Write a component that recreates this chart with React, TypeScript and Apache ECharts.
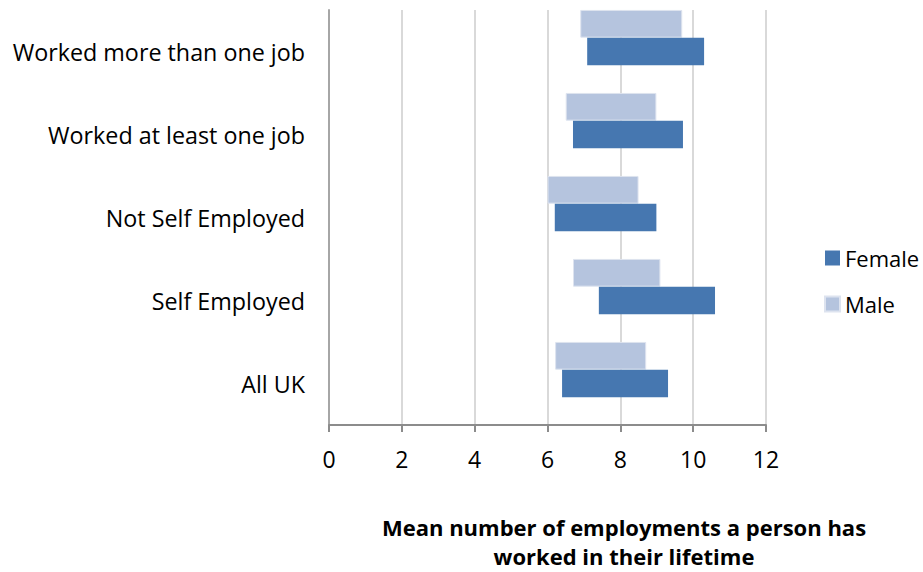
import React, { useEffect, useRef } from "react";
import * as echarts from "echarts";

const categories = [
  "All UK",
  "Self Employed",
  "Not Self Employed",
  "Worked at least one job",
  "Worked more than one job",
];
const maleStart = [6.21, 6.7, 6.0, 6.5, 6.9];
const maleEnd = [8.71, 9.1, 8.5, 8.99, 9.7];
const femaleStart = [6.4, 7.41, 6.2, 6.7, 7.09];
const femaleEnd = [9.31, 10.6, 8.99, 9.72, 10.3];
const xTicks = [0, 2, 4, 6, 8, 10, 12];
const titleLines = ["Mean number of employments a person has", "worked in their lifetime"];

const FONT = "Open Sans";
const FEMALE = "#4677b0";
const MALE = "#b5c4de";
const BW = 27.7;

export default function App() {
  const ref = useRef<HTMLDivElement>(null);
  useEffect(() => {
    if (!ref.current) return;
    document.body.style.margin = "0";
    document.body.style.overflow = "hidden";
    const chart = echarts.init(ref.current, undefined, { renderer: "svg" });
    const diff = (a: number[], b: number[]) => a.map((v, i) => +(v - b[i]).toFixed(3));
    const option: any = {
      animation: false,
      textStyle: { fontFamily: FONT },
      grid: { left: 329, right: 157, top: 10, bottom: 147, containLabel: false },
      legend: {
        data: ["Female", "Male"],
        orient: "vertical",
        left: 819,
        top: 242,
        itemWidth: 15,
        itemHeight: 15,
        itemGap: 24,
        icon: "rect",
        textStyle: { fontSize: 22, color: "#000", fontFamily: FONT },
      },
      xAxis: {
        type: "value",
        min: xTicks[0],
        max: xTicks[xTicks.length - 1],
        interval: 2,
        axisLine: { show: true, lineStyle: { color: "#8c8c8c", width: 2 } },
        axisTick: { show: true, length: 7, lineStyle: { color: "#8c8c8c", width: 2 } },
        axisLabel: { fontSize: 23, color: "#000", margin: 22, fontFamily: FONT },
        splitLine: { show: true, lineStyle: { color: "#d9d9d9", width: 2 } },
      },
      yAxis: {
        type: "category",
        data: categories,
        axisLine: { show: true, lineStyle: { color: "#a6a6a6", width: 2 } },
        axisTick: { show: false },
        axisLabel: { fontSize: 23.3, color: "#000", margin: 24, fontFamily: FONT },
      },
      graphic: titleLines.map((t, i) => ({
        type: "text",
        x: 624,
        y: 527 + i * 29,
        style: {
          text: t,
          align: "center",
          verticalAlign: "middle",
          font: `bold 22px '${FONT}'`,
          lineHeight: 22,
          fill: "#000",
        },
      })),
      series: [
        {
          name: "mbase",
          type: "bar",
          stack: "m",
          data: maleStart,
          barWidth: BW,
          barGap: 0,
          itemStyle: { color: "transparent" },
          silent: true,
        },
        {
          name: "Male",
          type: "bar",
          stack: "m",
          data: diff(maleEnd, maleStart),
          barWidth: BW,
          barGap: 0,
          itemStyle: { color: MALE, borderColor: "#dde3ef", borderWidth: 1 },
        },
        {
          name: "fbase",
          type: "bar",
          stack: "f",
          data: femaleStart,
          barWidth: BW,
          barGap: 0,
          itemStyle: { color: "transparent" },
          silent: true,
        },
        {
          name: "Female",
          type: "bar",
          stack: "f",
          data: diff(femaleEnd, femaleStart),
          barWidth: BW,
          barGap: 0,
          itemStyle: { color: FEMALE },
        },
        {
          name: "dummy",
          type: "bar",
          stack: "d",
          data: categories.map(() => "-"),
          barWidth: BW,
          barGap: 0,
          silent: true,
        },
      ],
    };
    chart.setOption(option);
    return () => chart.dispose();
  }, []);
  return <div ref={ref} style={{ width: 923, height: 572 }} />;
}
